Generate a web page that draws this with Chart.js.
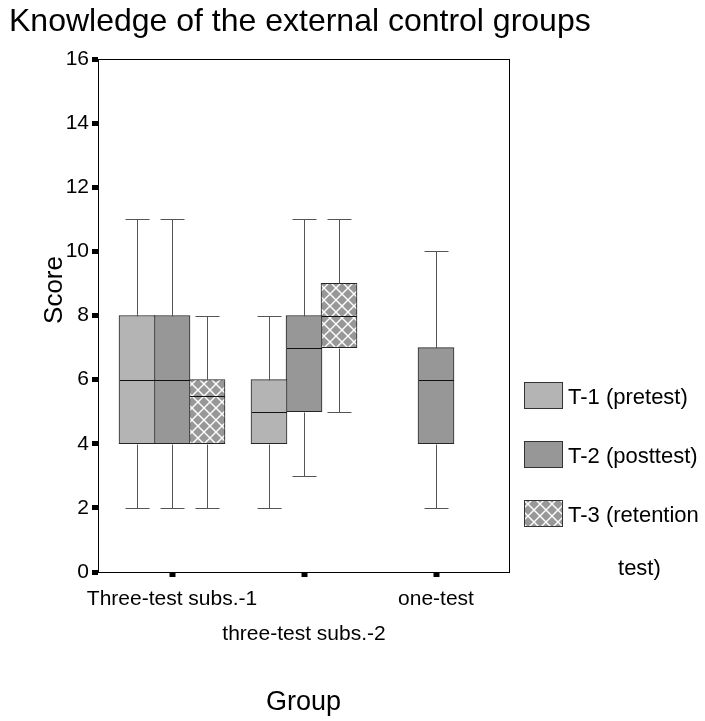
<!DOCTYPE html>
<html><head><meta charset="utf-8">
<script src="https://cdn.jsdelivr.net/npm/chart.js@4/dist/chart.umd.min.js"></script>
<style>html,body{margin:0;padding:0;background:#fff;overflow:hidden}#wrap{width:705px;height:721px}</style>
</head><body><div id="wrap"><canvas id="c" width="705" height="721"></canvas></div>
<script>
// ---- data ----
const categories = ['Three-test subs.-1', 'three-test subs.-2', 'one-test'];
const categoryLabelLines = [['Three-test subs.-1'], ['', 'three-test subs.-2'], ['one-test']];
const seriesLabels = ['T-1 (pretest)', 'T-2 (posttest)', 'T-3 (retention test)'];
// [min, q1, median, q3, max] for each category (null = no box)
const t1Stats = [[2, 4, 6, 8, 11], [2, 4, 5, 6, 8], null];
const t2Stats = [[2, 4, 6, 8, 11], [3, 5, 7, 8, 11], [2, 4, 6, 7, 10]];
const t3Stats = [[2, 4, 5.5, 6, 8], [5, 7, 8, 9, 11], null];
const yTickValues = [0, 2, 4, 6, 8, 10, 12, 14, 16];
const chartTitle = 'Knowledge of the external control groups';
const xTitle = 'Group';
const yTitle = 'Score';

// ---- styling ----
const FONT = "'Liberation Sans', Arial, sans-serif";
const slot = 35 / 132;
const statsBySeries = [t1Stats, t2Stats, t3Stats];

function makeHatch() {
  const s = 12, c = document.createElement('canvas');
  c.width = s; c.height = s;
  const g = c.getContext('2d');
  g.fillStyle = '#989898'; g.fillRect(0, 0, s, s);
  g.strokeStyle = '#ffffff'; g.lineWidth = 1.4;
  g.beginPath();
  g.moveTo(-2, -2); g.lineTo(s + 2, s + 2);
  g.moveTo(s + 2, -2); g.lineTo(-2, s + 2);
  g.stroke();
  return g.createPattern(c, 'repeat');
}
const hatch = makeHatch();
const fills = ['#b4b4b4', '#979797', hatch];

const datasets = statsBySeries.map((st, si) => ({
  label: seriesLabels[si],
  data: st.map((s, gi) => s ? { x: gi + (si - 1) * slot, y: [s[1], s[3]] } : null).filter(Boolean),
  backgroundColor: fills[si],
  borderColor: '#262626',
  borderWidth: 1,
  borderSkipped: false,
  barThickness: 36,
  grouped: false
}));

function line(ctx, x1, y1, x2, y2) {
  ctx.beginPath(); ctx.moveTo(x1, y1); ctx.lineTo(x2, y2); ctx.stroke();
}
const crisp = v => Math.round(v) + 0.5;

const boxParts = {
  id: 'boxParts',
  afterDatasetsDraw(chart) {
    const { ctx, scales: { x, y } } = chart;
    ctx.save();
    ctx.lineWidth = 1;
    statsBySeries.forEach((st, si) => {
      st.forEach((s, gi) => {
        if (!s) return;
        const cx = crisp(x.getPixelForValue(gi + (si - 1) * slot));
        const [mn, q1, md, q3, mx] = s.map(v => crisp(y.getPixelForValue(v)));
        const half = 17.5, cap = 12;
        ctx.strokeStyle = '#555555';
        line(ctx, cx, q3, cx, mx); line(ctx, cx - cap, mx, cx + cap, mx);
        line(ctx, cx, q1, cx, mn); line(ctx, cx - cap, mn, cx + cap, mn);
        ctx.strokeStyle = '#111';
        line(ctx, cx - half, md, cx + half, md);
      });
    });
    ctx.restore();
  }
};

const extras = {
  id: 'extras',
  afterDraw(chart) {
    const { ctx, chartArea } = chart;
    ctx.save();
    // y axis title
    ctx.fillStyle = '#000';
    ctx.font = '26px ' + FONT;
    ctx.textAlign = 'center'; ctx.textBaseline = 'middle';
    ctx.translate(55, 290); ctx.rotate(-Math.PI / 2);
    ctx.fillText(yTitle, 0, 0);
    ctx.restore();

    // legend
    ctx.save();
    const lx = chartArea.right + 15, tx = chartArea.right + 59;
    const tops = [382, 441, 500];
    const maxW = 705 - tx - 2;
    ctx.font = '22px ' + FONT;
    ctx.textBaseline = 'middle';
    datasets.forEach((ds, i) => {
      const top = tops[i];
      ctx.fillStyle = ds.backgroundColor;
      ctx.fillRect(lx, top, 39, 27);
      ctx.strokeStyle = '#333'; ctx.lineWidth = 1;
      ctx.strokeRect(lx + 0.5, top + 0.5, 38, 26);
      const words = ds.label.split(' ');
      const lines = []; let cur = '';
      words.forEach(w => {
        const t = cur ? cur + ' ' + w : w;
        if (ctx.measureText(t).width > maxW && cur) { lines.push(cur); cur = w; } else cur = t;
      });
      lines.push(cur);
      ctx.fillStyle = '#000';
      const firstW = ctx.measureText(lines[0]).width;
      lines.forEach((l, li) => {
        const yy = top + 13.5 + 2 + li * 53;
        if (li === 0) { ctx.textAlign = 'left'; ctx.fillText(l, tx, yy); }
        else { ctx.textAlign = 'center'; ctx.fillText(l, tx + firstW / 2 + 6, yy); }
      });
    });
    ctx.restore();
  }
};

new Chart(document.getElementById('c'), {
  type: 'bar',
  data: { datasets },
  plugins: [boxParts, extras],
  options: {
    responsive: false,
    animation: false,
    layout: { padding: { left: 9, right: 0, top: 0, bottom: 0 } },
    plugins: {
      legend: { display: false },
      tooltip: { enabled: false },
      title: {
        display: true, text: chartTitle, align: 'start', color: '#000',
        font: { family: FONT, size: 32, weight: 'normal' },
        padding: { top: 2.5, bottom: 18.1 }
      }
    },
    scales: {
      x: {
        type: 'linear', position: 'bottom', offset: false,
        min: -(172 - 98) / 132, max: 2 + (509 - 436) / 132,
        afterBuildTicks: s => { s.ticks = categories.map((c, i) => ({ value: i })); },
        afterFit: s => { s.height = 149; },
        ticks: {
          autoSkip: false, maxRotation: 0, minRotation: 0, padding: 5, color: '#000',
          font: { family: FONT, size: 21, lineHeight: 1.65 },
          callback: v => categoryLabelLines[v]
        },
        grid: { display: true, offset: false, drawOnChartArea: false, drawTicks: true, tickLength: 5, tickWidth: 6, tickColor: '#000' },
        border: { display: true, color: '#000', width: 1 },
        title: { display: true, text: xTitle, color: '#000', font: { family: FONT, size: 27 }, padding: { top: 0, bottom: 2 } }
      },
      xTop: {
        type: 'linear', position: 'top', display: true, offset: false,
        ticks: { display: false }, grid: { display: false, drawTicks: false },
        border: { display: true, color: '#000', width: 1 },
        afterFit: s => { s.height = 0; }
      },
      y: {
        type: 'linear', position: 'left', min: 0, max: 16,
        afterBuildTicks: s => { s.ticks = yTickValues.map(v => ({ value: v })); },
        afterFit: s => { s.width = 89; },
        ticks: { padding: 3, color: '#000', font: { family: FONT, size: 21 } },
        grid: { display: true, drawOnChartArea: false, drawTicks: true, tickLength: 6, tickWidth: 5, tickColor: '#000' },
        border: { display: true, color: '#000', width: 1 }
      },
      yRight: {
        type: 'linear', position: 'right', display: true,
        ticks: { display: false }, grid: { display: false, drawTicks: false },
        border: { display: true, color: '#000', width: 1 },
        afterFit: s => { s.width = 196; }
      }
    }
  }
});
</script>
</body></html>
